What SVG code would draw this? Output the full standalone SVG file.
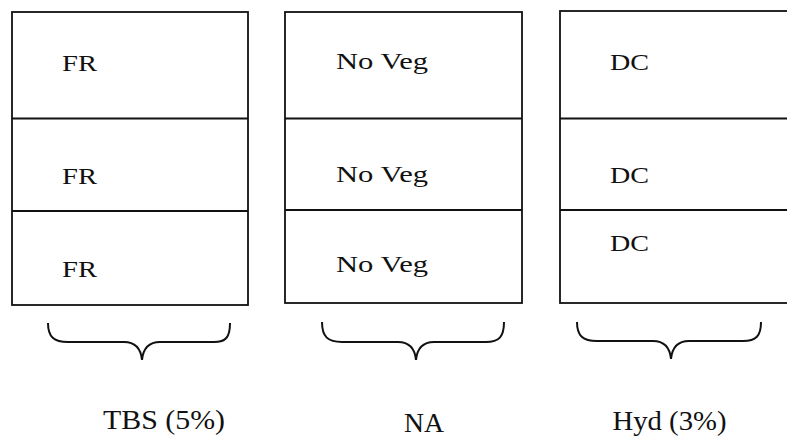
<svg xmlns="http://www.w3.org/2000/svg" width="787" height="439" viewBox="0 0 787 439">
<style>
.box{fill:#fff;stroke:#111;stroke-width:1.8}
.div{stroke:#111;stroke-width:1.8}
.t{font-family:"Liberation Serif","Times New Roman",serif;font-size:24px;fill:#111}
.b{font-family:"Liberation Serif","Times New Roman",serif;font-size:27px;fill:#111}
.br{fill:none;stroke:#111;stroke-width:2}
</style>
<rect width="787" height="439" fill="#fff"/>
<g id="col-tbs">
<rect class="box" x="12" y="12" width="236" height="293"/>
<line class="div" x1="12" y1="118.5" x2="248" y2="118.5"/>
<line class="div" x1="12" y1="211" x2="248" y2="211"/>
<text class="t" x="62" y="71" textLength="35" lengthAdjust="spacingAndGlyphs">FR</text>
<text class="t" x="62" y="184" textLength="35" lengthAdjust="spacingAndGlyphs">FR</text>
<text class="t" x="62" y="277" textLength="35" lengthAdjust="spacingAndGlyphs">FR</text>
</g>
<g id="col-na">
<rect class="box" x="285" y="12" width="237" height="291"/>
<line class="div" x1="285" y1="118.5" x2="522" y2="118.5"/>
<line class="div" x1="285" y1="210" x2="522" y2="210"/>
<text class="t" x="336" y="69" textLength="92" lengthAdjust="spacingAndGlyphs">No Veg</text>
<text class="t" x="336" y="182" textLength="92" lengthAdjust="spacingAndGlyphs">No Veg</text>
<text class="t" x="336" y="272" textLength="92" lengthAdjust="spacingAndGlyphs">No Veg</text>
</g>
<g id="col-hyd">
<rect class="box" x="560" y="11" width="232" height="292"/>
<line class="div" x1="560" y1="118.5" x2="792" y2="118.5"/>
<line class="div" x1="560" y1="210" x2="792" y2="210"/>
<text class="t" x="610" y="70" textLength="39" lengthAdjust="spacingAndGlyphs">DC</text>
<text class="t" x="610" y="183" textLength="39" lengthAdjust="spacingAndGlyphs">DC</text>
<text class="t" x="610" y="251" textLength="39" lengthAdjust="spacingAndGlyphs">DC</text>
</g>
<g id="connectors">
<path class="br" d="M48,323 C48,337 54,342 68,342 L124,342 C136,342 141,350 142,360 C143,350 148,342 160,342 L214,342 C226,342 230,337 230,323"/>
<path class="br" d="M322,322 C322,337 328,342 342,342 L398,342 C410,342 415,350 416,360 C417,350 422,342 434,342 L486,342 C499,342 504,337 504,322"/>
<path class="br" d="M577,322 C577,336 583,341 597,341 L653,341 C665,341 670,349 671,359 C672,349 677,341 689,341 L743,341 C756,341 761,336 761,322"/>
</g>
<g id="labels">
<text class="b" x="103" y="429" textLength="122" lengthAdjust="spacingAndGlyphs">TBS (5%)</text>
<text class="b" x="404" y="432" textLength="40" lengthAdjust="spacingAndGlyphs">NA</text>
<text class="b" x="612.5" y="430" textLength="114" lengthAdjust="spacingAndGlyphs">Hyd (3%)</text>
</g>
</svg>
